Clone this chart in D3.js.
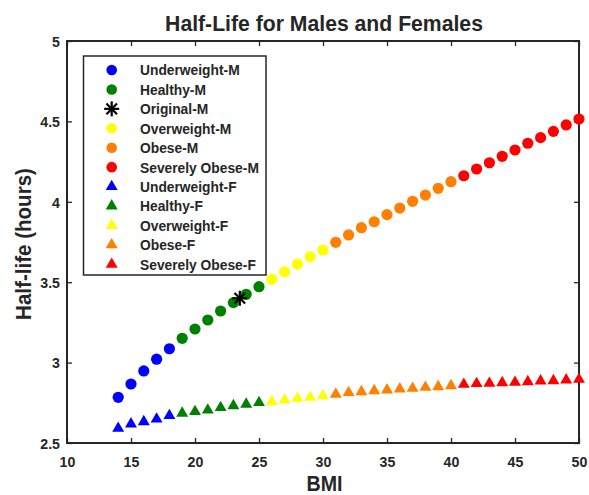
<!DOCTYPE html>
<html><head><meta charset="utf-8">
<script src="https://cdn.jsdelivr.net/npm/d3@7"></script>
<style>body{margin:0;background:#fff}svg{display:block}text{font-family:"Liberation Sans",Arial,sans-serif;font-weight:bold;fill:#262626}</style>
</head><body><svg id="c" width="589" height="495"></svg>
<script>
const bmi = d3.range(14, 51); // 14..50
const categories = ["Underweight","Healthy","Overweight","Obese","Severely Obese"];
const catColors = ["#0000ff","#008000","#ffff00","#ff8000","#ff0000"];
const catRanges = [[14,18],[19,25],[26,30],[31,40],[41,50]];
const maleHalfLife = [2.784,2.867,2.948,3.021,3.086,3.151,3.209,3.265,3.321,3.373,3.425,3.472,
  3.518,3.565,3.613,3.659,3.700,
  3.748,3.794,3.839,3.876,3.920,3.961,4.003,4.042,4.084,4.125,
  4.162,4.204,4.243,4.283,4.322,4.364,4.399,4.438,4.478,4.515];
const femaleHalfLife = [2.591,2.618,2.632,2.649,2.670,2.685,2.695,2.705,2.720,2.732,2.741,2.751,
  2.757,2.767,2.778,2.784,2.794,
  2.803,2.813,2.819,2.825,2.830,2.836,2.840,2.846,2.850,2.856,
  2.865,2.869,2.871,2.875,2.877,2.881,2.886,2.887,2.892,2.896];
const originalM = {bmi: 23.5, halfLife: 3.40};
const xTicks = [10,15,20,25,30,35,40,45,50];
const yTicks = [2.5,3,3.5,4,4.5,5];
const legendLabels = ["Underweight-M","Healthy-M","Original-M","Overweight-M","Obese-M","Severely Obese-M",
  "Underweight-F","Healthy-F","Overweight-F","Obese-F","Severely Obese-F"];

const svg = d3.select("#c");
const L=67, R=579, T=41, B=443;
const SY = 1.08; // slight vertical stretch of glyphs
const x = d3.scaleLinear().domain([10,50]).range([L,R]);
const y = d3.scaleLinear().domain([2.5,5]).range([B,T]);
const colorOf = b => catColors[catRanges.findIndex(r => b>=r[0] && b<=r[1])];
const axc = "#262626";

// axes with inward ticks on all sides
const gx = svg.append("g").attr("transform",`translate(0,${B})`)
  .call(d3.axisBottom(x).tickValues(xTicks).tickSizeInner(-5).tickSizeOuter(0));
const gxt = svg.append("g").attr("transform",`translate(0,${T})`)
  .call(d3.axisTop(x).tickValues(xTicks).tickSizeInner(-5).tickSizeOuter(0).tickFormat(""));
const gy = svg.append("g").attr("transform",`translate(${L},0)`)
  .call(d3.axisLeft(y).tickValues(yTicks).tickSizeInner(-5).tickSizeOuter(0).tickFormat(d3.format("")));
const gyr = svg.append("g").attr("transform",`translate(${R},0)`)
  .call(d3.axisRight(y).tickValues(yTicks).tickSizeInner(-5).tickSizeOuter(0).tickFormat(""));
[gx,gxt,gy,gyr].forEach(g=>{
  g.select(".domain").remove();
  g.selectAll(".tick line").attr("stroke",axc).attr("stroke-width",1.3);
  g.selectAll(".tick text").attr("font-size",14.2).attr("font-weight","bold").attr("fill",axc)
   .attr("font-family","'Liberation Sans',Arial,sans-serif");
});
gx.selectAll(".tick text").attr("y",24/SY).attr("dy",0).attr("transform",`scale(1,${SY})`);
gy.selectAll(".tick text").attr("x",-7).attr("dy","0.34em").attr("transform",`scale(1,${SY})`);
svg.append("rect").attr("x",L).attr("y",T).attr("width",R-L).attr("height",B-T)
  .attr("fill","none").attr("stroke",axc).attr("stroke-width",2);

// female triangles
const tri = d3.symbol().type(d3.symbolTriangle).size(62);
svg.append("g").selectAll("path").data(bmi).join("path")
  .attr("d",tri).attr("transform",(d,i)=>`translate(${x(d)},${y(femaleHalfLife[i])})`)
  .attr("fill",d=>colorOf(d));
// male circles
svg.append("g").selectAll("circle").data(bmi).join("circle")
  .attr("cx",d=>x(d)).attr("cy",(d,i)=>y(maleHalfLife[i])).attr("r",5.6)
  .attr("fill",d=>colorOf(d));
// asterisk
function asterisk(g, cx, cy, r){
  for(let k=0;k<4;k++){
    const a = k*Math.PI/4;
    g.append("line").attr("x1",cx-r*Math.cos(a)).attr("y1",cy-r*Math.sin(a))
      .attr("x2",cx+r*Math.cos(a)).attr("y2",cy+r*Math.sin(a))
      .attr("stroke","#000").attr("stroke-width",2.2);
  }
}
asterisk(svg, x(originalM.bmi), y(originalM.halfLife), 7.5);

// text helper: fits font size to a target width, stretches vertically
function fitText(parent, str, tx, ty, targetW, opts={}){
  const t = parent.append("text").attr("font-size",12).text(str);
  if(opts.anchor) t.attr("text-anchor",opts.anchor);
  if(opts.fill) t.attr("fill",opts.fill);
  const w = t.node().getComputedTextLength();
  const fs = 12*targetW/w;
  t.attr("font-size",fs);
  t.attr("transform",`translate(${tx},${ty})${opts.rot?` rotate(${opts.rot})`:""} scale(1,${SY})`);
  if(opts.dy) t.attr("dy",opts.dy);
  return fs;
}

// legend
const lg = svg.append("g");
lg.append("rect").attr("x",83.5).attr("y",56).attr("width",182.5).attr("height",219)
  .attr("fill","#fff").attr("stroke",axc).attr("stroke-width",1.5);
const markers = [
  {t:"c",c:catColors[0]},{t:"c",c:catColors[1]},{t:"a"},{t:"c",c:catColors[2]},{t:"c",c:catColors[3]},{t:"c",c:catColors[4]},
  {t:"t",c:catColors[0]},{t:"t",c:catColors[1]},{t:"t",c:catColors[2]},{t:"t",c:catColors[3]},{t:"t",c:catColors[4]}];
const ly = i => 70 + i*19.43;
const probe = lg.append("text").attr("font-size",12).text(legendLabels[5]);
const lfs = 12*119/probe.node().getComputedTextLength();
probe.remove();
legendLabels.forEach((lab,i)=>{
  const m = markers[i], cy = ly(i), cx = 111.7;
  if(m.t==="c") lg.append("circle").attr("cx",cx).attr("cy",cy).attr("r",5.3).attr("fill",m.c);
  else if(m.t==="t") lg.append("path").attr("d",tri).attr("transform",`translate(${cx},${cy})`).attr("fill",m.c);
  else asterisk(lg, cx, cy, 7.5);
  lg.append("text").attr("font-size",lfs).attr("dy","0.36em")
    .attr("transform",`translate(140,${cy}) scale(1,${SY})`).text(lab);
});

// titles
fitText(svg, "Half-Life for Males and Females", 324, 31, 318, {anchor:"middle", fill:"#000"});
fitText(svg, "BMI", 324.5, 491, 36, {anchor:"middle"});
fitText(svg, "Half-life (hours)", 31, 244, 152, {anchor:"middle", rot:-90});
</script></body></html>
